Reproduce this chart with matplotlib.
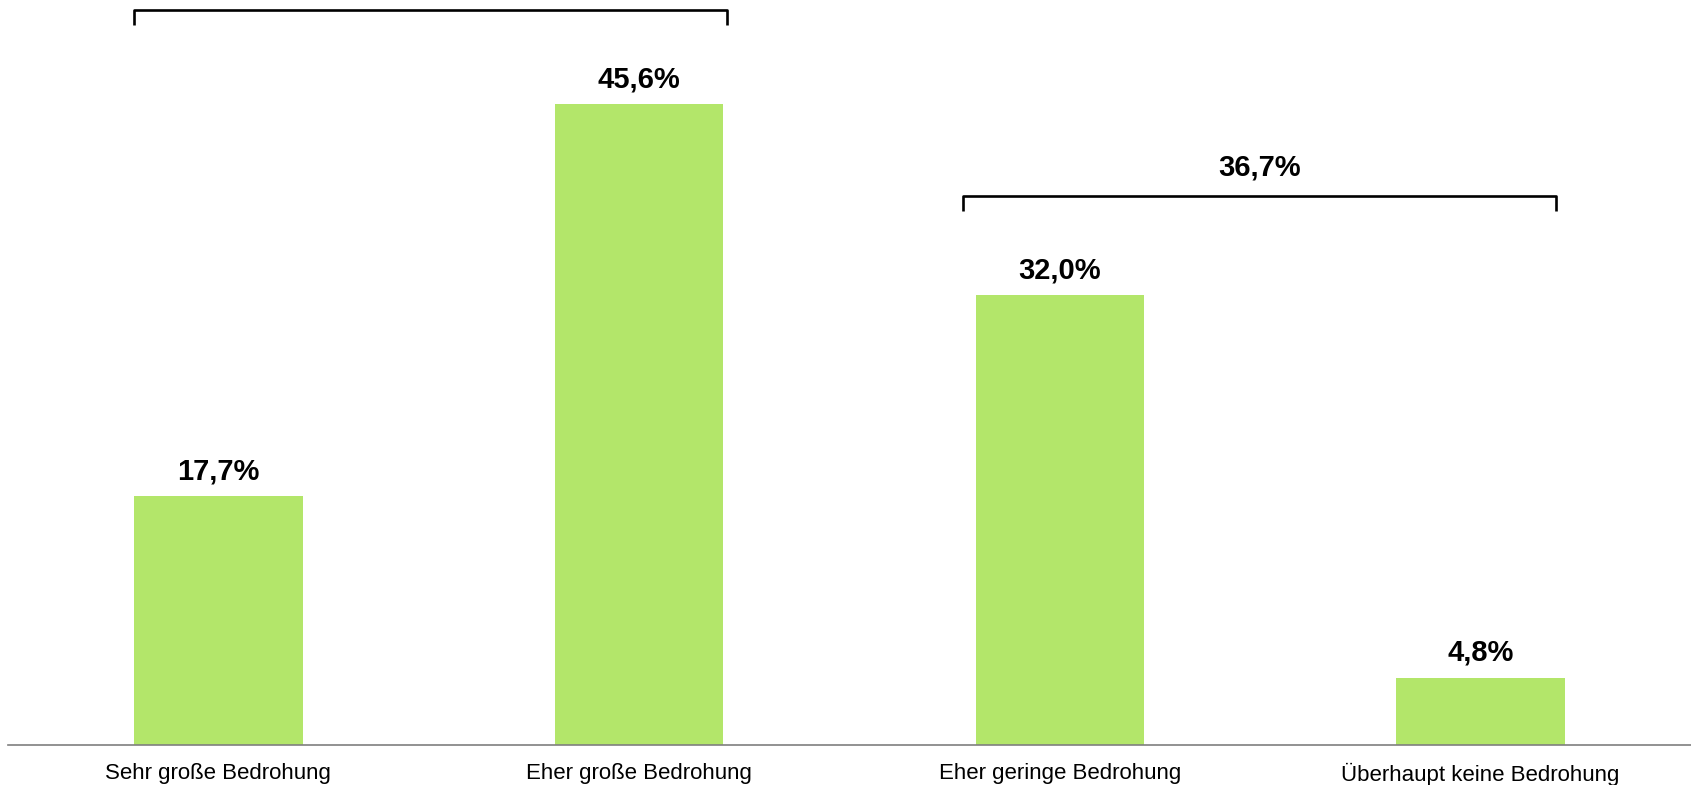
import matplotlib
matplotlib.use('Agg')
import matplotlib.pyplot as plt

# ========== DATA ==========
categories = ["Sehr große Bedrohung", "Eher große Bedrohung",
              "Eher geringe Bedrohung", "Überhaupt keine Bedrohung"]
values = [17.7, 45.6, 32.0, 4.8]
value_labels = ["17,7%", "45,6%", "32,0%", "4,8%"]

# brackets grouping the two "große" and the two "geringe/keine" answers
bracket_spans = [(-0.2, 1.21), (1.77, 3.18)]
bracket_heights = [52.3, 39.05]
bracket_labels = ["63,3%", "36,7%"]

# ========== STYLE ==========
BAR_COLOR = "#B3E66A"
AXIS_COLOR = "#7F7F7F"
plt.rcParams['font.family'] = ['Liberation Sans', 'DejaVu Sans']

W, H = 1691, 785
fig = plt.figure(figsize=(W / 100, H / 100), dpi=100)
ax = fig.add_axes([8 / W, 40 / H, 1 - 8 / W, 745 / H])

x = list(range(len(categories)))
ax.bar(x, values, width=0.4, color=BAR_COLOR, zorder=2)
ax.set_xlim(-0.5, 3.5)
ax.set_ylim(0, 745 / 14.05)

# value labels above bars
for xi, v, lab in zip(x, values, value_labels):
    ax.annotate(lab, (xi, v), xytext=(0, 18), textcoords='offset points',
                ha='center', va='center', fontsize=21, weight='bold')

# brackets
tick = 1.05
for (x0, x1), y, lab in zip(bracket_spans, bracket_heights, bracket_labels):
    ax.plot([x0, x0, x1, x1], [y - tick, y, y, y - tick], color='black',
            lw=1.9, solid_joinstyle='round', solid_capstyle='butt', clip_on=False)
    if y + 2.0 < ax.get_ylim()[1]:
        ax.text((x0 + x1) / 2, y + 2.05, lab, ha='center', va='center',
                fontsize=21, weight='bold')

# axes cosmetics
for side in ['top', 'right', 'left']:
    ax.spines[side].set_visible(False)
ax.spines['bottom'].set_color(AXIS_COLOR)
ax.spines['bottom'].set_linewidth(1.2)
ax.set_yticks([])
ax.set_xticks(x)
ax.set_xticklabels(categories, fontsize=16)
ax.tick_params(axis='x', length=0, pad=13)

fig.savefig("out.png", dpi=100, facecolor='white')
plt.close(fig)
